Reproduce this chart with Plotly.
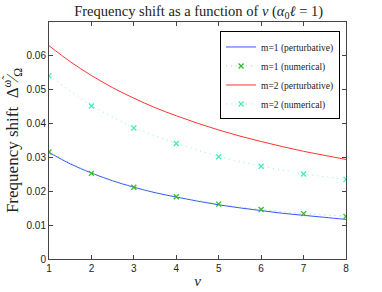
import plotly.graph_objects as go

# --- data ---
nu_fine = [1, 1.5, 2, 2.5, 3, 3.5, 4, 4.5, 5, 5.5, 6, 6.5, 7, 7.5, 8]
m1_pert = [0.0315, 0.0281, 0.0254, 0.0231, 0.0212, 0.0196, 0.0183, 0.0171,
           0.0160, 0.0151, 0.0143, 0.0135, 0.0129, 0.0123, 0.0117]
m2_pert = [0.0630, 0.0583, 0.0542, 0.0506, 0.0475, 0.0447, 0.0423, 0.0401,
           0.0381, 0.0363, 0.0347, 0.0332, 0.0318, 0.0306, 0.0294]

nu = [1, 2, 3, 4, 5, 6, 7, 8]
m1_num = [0.0316, 0.0253, 0.0212, 0.0184, 0.0162, 0.0146, 0.0134, 0.0126]
m2_num = [0.0541, 0.0452, 0.0387, 0.0341, 0.0302, 0.0274, 0.0251, 0.0235]

x_ticks = [1, 2, 3, 4, 5, 6, 7, 8]
y_ticks = [0, 0.01, 0.02, 0.03, 0.04, 0.05, 0.06]
y_tick_labels = ["0", "0.01", "0.02", "0.03", "0.04", "0.05", "0.06"]

serif = "Liberation Serif, DejaVu Serif, serif"
sans = "Liberation Sans, Arial, sans-serif"

fig = go.Figure()
fig.add_trace(go.Scatter(
    x=nu_fine, y=m1_pert, mode="lines", name="m=1 (perturbative)",
    line=dict(color="#3355ff", width=1, shape="spline")))
fig.add_trace(go.Scatter(
    x=nu, y=m1_num, mode="lines+markers", name="m=1 (numerical)",
    line=dict(color="#88e088", width=1, dash="1px,4px"),
    marker=dict(symbol="x-thin", size=5, color="#33bb33",
                line=dict(color="#33bb33", width=1.3))))
fig.add_trace(go.Scatter(
    x=nu_fine, y=m2_pert, mode="lines", name="m=2 (perturbative)",
    line=dict(color="#ff3333", width=1, shape="spline")))
fig.add_trace(go.Scatter(
    x=nu, y=m2_num, mode="lines+markers", name="m=2 (numerical)",
    line=dict(color="#88f5d5", width=1, dash="1px,4px"),
    marker=dict(symbol="x-thin", size=5, color="#44eebb",
                line=dict(color="#44eebb", width=1.3))))

axis_common = dict(
    showline=True, linecolor="#444444", linewidth=1, mirror="ticks",
    ticks="inside", ticklen=4, tickcolor="#444444", showgrid=False,
    zeroline=False, automargin=False,
    tickfont=dict(family=sans, size=10, color="#222222"),
)

fig.update_layout(
    width=382, height=292,
    paper_bgcolor="white", plot_bgcolor="white",
    margin=dict(l=49, r=36, t=22, b=33),
    title=dict(
        text="Frequency shift as a function of <i>ν</i> (<i>α</i><sub>0</sub><i>ℓ</i> = 1)",
        font=dict(family=serif, size=14.5, color="#222222"),
        x=0.52, xanchor="center", y=0.962, yanchor="middle"),
    xaxis=dict(range=[1, 8], tickvals=x_ticks,
               title=dict(text="<i>ν</i>", font=dict(family=serif, size=15, color="#222222"),
                          standoff=2),
               **axis_common),
    yaxis=dict(range=[0, 0.07], tickvals=y_ticks, ticktext=y_tick_labels,
               title=dict(text="Frequency shift  Δ<sup>ω̃</sup>⁄<sub>Ω</sub>",
                          font=dict(family=serif, size=17, color="#222222"),
                          standoff=7),
               **axis_common),
    legend=dict(
        x=0.98, xanchor="right", y=0.96, yanchor="top",
        bordercolor="#000000", borderwidth=1, bgcolor="white",
        font=dict(family=serif, size=9.5, color="#222222"),
        tracegroupgap=0, itemwidth=30),
    showlegend=True,
)

fig.write_html("out.html",
               config={"displayModeBar": False},
               post_script="document.body.style.margin='0px';")
